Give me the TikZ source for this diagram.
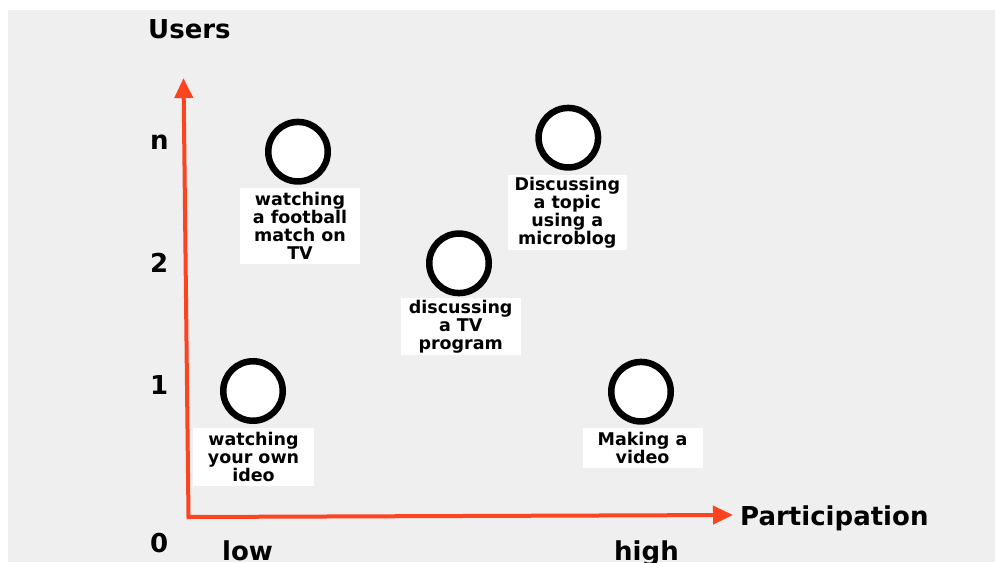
\documentclass[tikz,border=0pt]{standalone}
\usepackage{fontspec}
\setmainfont{DejaVu Sans}
\usetikzlibrary{arrows.meta}
\definecolor{panel}{RGB}{239,239,239}
\definecolor{axisred}{RGB}{252,68,32}
\begin{document}
\begin{tikzpicture}[x=1pt,y=-1pt,
  axis/.style={draw=axisred,line width=4pt,line join=miter,
    {Triangle[length=20pt,width=18pt]}-{Triangle[length=20pt,width=18pt]}},
  marker/.style={circle,draw=black,fill=white,line width=6.5pt,
    minimum size=59.5pt,inner sep=0pt},
  caption/.style={fill=white,inner sep=0pt,align=center,
    font=\bfseries\fontsize{17.5}{18}\selectfont},
  bigtext/.style={anchor=base west,inner sep=0pt,
    font=\bfseries\fontsize{26}{30}\selectfont}]
  \useasboundingbox (0,0) rectangle (995,562);
  % grey panel
  \fill[panel] (8,10) rectangle (995,562);

  % axes
  \coordinate (origin) at (188.5,517);
  \coordinate (ytip) at (183.5,78);
  \coordinate (xtip) at (733,515);
  \draw[axis] (ytip) -- (origin) -- (xtip);

  % axis titles and tick labels
  \node[bigtext] (users) at (148,38) {Users};
  \node[bigtext] (part) at (740,525) {Participation};
  \node[bigtext] (tn) at (150,149.3) {n};
  \node[bigtext] (t2) at (150,272.3) {2};
  \node[bigtext] (t1) at (150,394.3) {1};
  \node[bigtext] (t0) at (150,552.7) {0};
  \node[bigtext] (low) at (222,560) {low};
  \node[bigtext] (high) at (614,560) {high};

  % activities
  \node[marker] (c1) at (298,151.7) {};
  \node[caption,minimum width=120pt,minimum height=76pt] (b1) at (300,226)
    {watching\\a football\\match on\\TV};

  \node[marker] (c2) at (253,391) {};
  \node[caption,minimum width=121pt,minimum height=58pt] (b2) at (253.5,457)
    {watching\\your own\\ideo};

  \node[marker] (c3) at (459,263.3) {};
  \node[caption,minimum width=120pt,minimum height=57pt] (b3) at (460.7,326.3)
    {discussing\\a TV\\program};

  \node[marker] (c4) at (568.3,137.7) {};
  \node[caption,minimum width=119pt,minimum height=75pt] (b4) at (567.3,212.5)
    {Discussing\\a topic\\using a\\microblog};

  \node[marker] (c5) at (641,391.7) {};
  \node[caption,minimum width=120pt,minimum height=40pt] (b5) at (642.5,448.3)
    {Making a\\video};
\end{tikzpicture}
\end{document}
